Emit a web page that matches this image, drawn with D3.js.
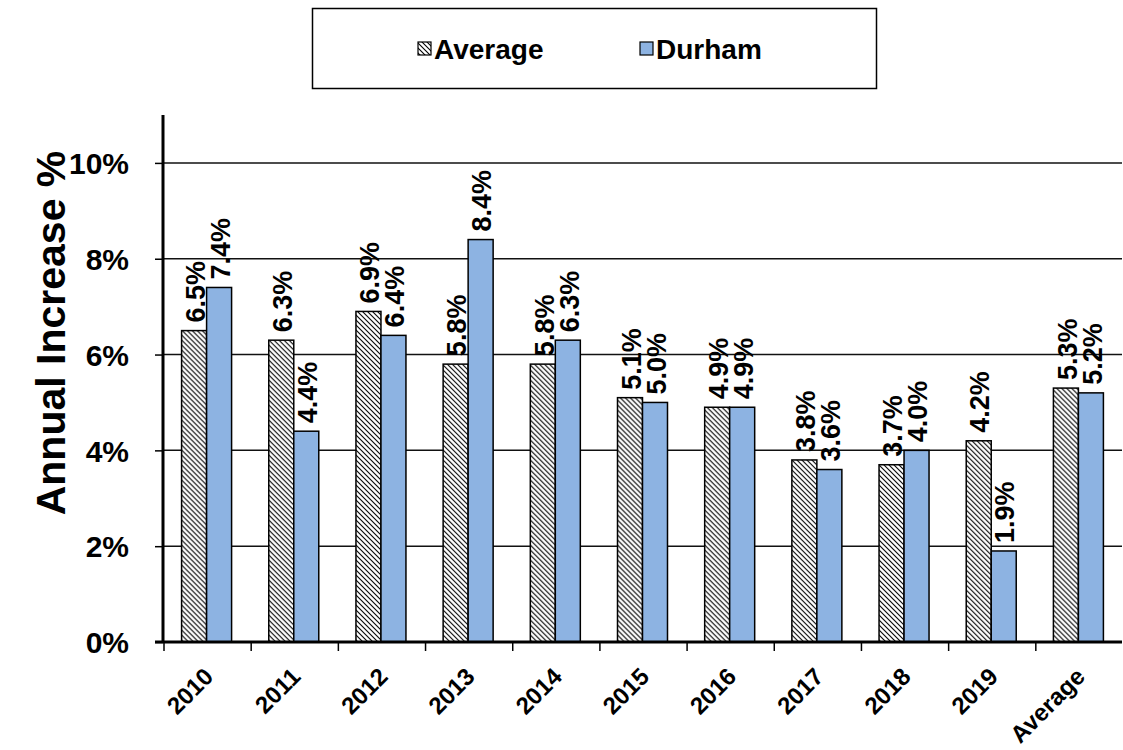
<!DOCTYPE html>
<html>
<head>
<meta charset="utf-8">
<script src="https://cdn.jsdelivr.net/npm/d3@7"></script>
<style>
  html, body { margin: 0; padding: 0; background: #fff; }
  svg { display: block; font-family: Arial, "Liberation Sans", sans-serif; }
</style>
</head>
<body>
<svg id="chart" width="1123" height="750"></svg>
<script>
// Annual increase by year: regional average vs. Durham
const categories = ["2010", "2011", "2012", "2013", "2014", "2015", "2016", "2017", "2018", "2019", "Average"];
const averageValues = [6.5, 6.3, 6.9, 5.8, 5.8, 5.1, 4.9, 3.8, 3.7, 4.2, 5.3];
const durhamValues = [7.4, 4.4, 6.4, 8.4, 6.3, 5.0, 4.9, 3.6, 4.0, 1.9, 5.2];
const seriesNames = ["Average", "Durham"];
const yTicks = [0, 2, 4, 6, 8, 10];
const yMax = 11;

const svg = d3.select("#chart");
const margin = { left: 163, right: 1, top: 115, bottom: 108 };
const W = 1123, H = 750;
const plotW = W - margin.left - margin.right;
const plotH = H - margin.top - margin.bottom;

const defs = svg.append("defs");
const pat = defs.append("pattern")
  .attr("id", "hatch")
  .attr("patternUnits", "userSpaceOnUse")
  .attr("width", 5).attr("height", 5);
pat.append("rect").attr("width", 5).attr("height", 5).attr("fill", "#fff");
pat.append("path")
  .attr("d", "M-1,-1 L6,6 M-1,4 L1,6 M4,-1 L6,1")
  .attr("stroke", "#000").attr("stroke-width", 1.1);

const g = svg.append("g").attr("transform", `translate(${margin.left},${margin.top})`);

const x = d3.scaleBand().domain(categories).range([0, plotW]).paddingInner(0).paddingOuter(0);
const y = d3.scaleLinear().domain([0, yMax]).range([plotH, 0]);

const barW = 25;
const rows = categories.map((c, i) => ({ cat: c, values: [averageValues[i], durhamValues[i]] }));

// gridlines
g.append("g").selectAll("line").data(yTicks.filter(t => t > 0)).join("line")
  .attr("x1", 0).attr("x2", plotW)
  .attr("y1", d => y(d)).attr("y2", d => y(d))
  .attr("stroke", "#111").attr("stroke-width", 1.5);

// y axis
const yAxis = g.append("g")
  .call(d3.axisLeft(y).tickValues(yTicks).tickFormat(d => d + "%").tickSize(8).tickPadding(26));
yAxis.select(".domain").remove();
yAxis.selectAll(".tick line").attr("stroke", "#000").attr("stroke-width", 1.5);
yAxis.selectAll(".tick text")
  .attr("font-size", 30).attr("font-weight", "bold").attr("fill", "#000")
  .attr("dy", "0.36em");
g.append("line").attr("x1", 0).attr("x2", 0).attr("y1", 0).attr("y2", plotH)
  .attr("stroke", "#000").attr("stroke-width", 3);

// bars
const groups = g.append("g").selectAll("g").data(rows).join("g")
  .attr("transform", d => `translate(${x(d.cat) + x.bandwidth() / 2 - barW},0)`);

groups.selectAll("rect").data(d => d.values).join("rect")
  .attr("x", (d, i) => i * barW)
  .attr("y", d => y(d))
  .attr("width", barW)
  .attr("height", d => plotH - y(d))
  .attr("fill", (d, i) => i === 0 ? "url(#hatch)" : "#8DB3E2")
  .attr("stroke", "#000").attr("stroke-width", 1.5);

// value labels
groups.selectAll("text").data(d => d.values).join("text")
  .attr("transform", (d, i) => `translate(${i * barW + barW / 2 + 1},${y(d) - 8}) rotate(-90)`)
  .attr("text-anchor", "start")
  .attr("dy", "0.36em")
  .attr("font-size", 27).attr("font-weight", "bold").attr("fill", "#000")
  .text(d => d.toFixed(1) + "%");

// x axis
const xAxisG = g.append("g").attr("transform", `translate(0,${plotH})`);
xAxisG.append("line").attr("x1", -8).attr("x2", plotW).attr("y1", 0).attr("y2", 0)
  .attr("stroke", "#000").attr("stroke-width", 3);
xAxisG.selectAll("line.tick").data(categories).join("line")
  .attr("class", "tick")
  .attr("x1", d => x(d) + 1).attr("x2", d => x(d) + 1)
  .attr("y1", 0).attr("y2", 9)
  .attr("stroke", "#000").attr("stroke-width", 1.5);
xAxisG.selectAll("text").data(categories).join("text")
  .attr("transform", d => `translate(${x(d) + x.bandwidth() / 2 + 2},${30}) rotate(-45)`)
  .attr("text-anchor", "end")
  .attr("dy", "0.36em")
  .attr("font-size", 24).attr("font-weight", "bold").attr("fill", "#000")
  .text(d => d);

// y axis title
svg.append("text")
  .attr("transform", `translate(50,${333}) rotate(-90)`)
  .attr("text-anchor", "middle")
  .attr("dy", "0.36em")
  .attr("font-size", 41).attr("font-weight", "bold").attr("fill", "#000")
  .text("Annual Increase %");

// legend
const legend = svg.append("g");
legend.append("rect").attr("x", 312.5).attr("y", 8.5).attr("width", 564).attr("height", 80)
  .attr("fill", "#fff").attr("stroke", "#000").attr("stroke-width", 1.5);
const legendItems = [
  { name: seriesNames[0], fill: "url(#hatch)", x: 418 },
  { name: seriesNames[1], fill: "#8DB3E2", x: 640 }
];
const li = legend.selectAll("g.item").data(legendItems).join("g").attr("class", "item");
li.append("rect")
  .attr("x", d => d.x).attr("y", 42).attr("width", 13).attr("height", 13)
  .attr("fill", d => d.fill).attr("stroke", "#000").attr("stroke-width", 1.2);
li.append("text")
  .attr("x", d => d.x + 16).attr("y", 49)
  .attr("dy", "0.36em")
  .attr("font-size", 28).attr("font-weight", "bold").attr("fill", "#000")
  .text(d => d.name);
</script>
</body>
</html>
